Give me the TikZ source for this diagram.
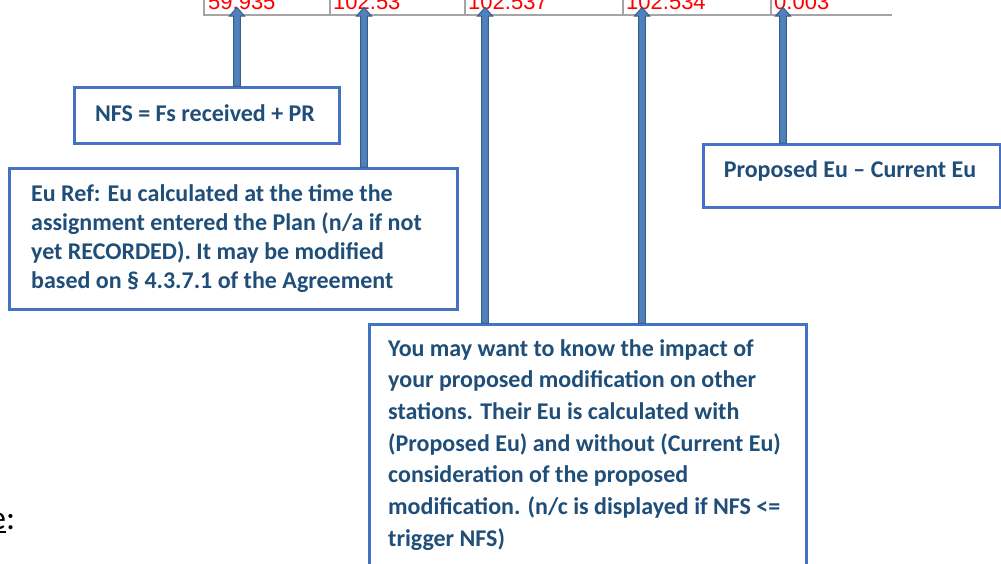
\documentclass[tikz,border=0pt]{standalone}
\usepackage{fontspec}
\setmainfont{Carlito}
\newfontfamily\numfont{Liberation Sans}
\usetikzlibrary{calc}
\definecolor{boxblue}{RGB}{68,114,196}
\definecolor{txtblue}{RGB}{31,78,121}
\definecolor{arrfill}{RGB}{79,129,189}
\definecolor{arrline}{RGB}{56,93,138}
\definecolor{gridgrey}{RGB}{165,165,165}
\newcommand\blockarr[2]{%
  \draw[blockarrow] let \p1=(#1), \p2=(#2) in
    (\x1-3.3pt,\y1) -- (\x1-3.3pt,\y2-8.5pt) -- (\x1-7.5pt,\y2-8.5pt) -- (\x2,\y2)
    -- (\x1+7.5pt,\y2-8.5pt) -- (\x1+3.3pt,\y2-8.5pt) -- (\x1+3.3pt,\y1) -- cycle;}
\begin{document}
\begin{tikzpicture}[x=1pt,y=-1pt,
  box/.style={draw=boxblue, line width=2.5pt, fill=white, inner sep=0pt, anchor=north west},
  txt/.style={inner sep=0pt, text=txtblue, font=\fontsize{24}{29.3}\selectfont\bfseries},
  num/.style={inner sep=0pt, anchor=base west, text=red, font=\numfont\fontsize{22}{26}\selectfont},
  grid/.style={draw=gridgrey, line width=1.5pt},
  blockarrow/.style={draw=arrline, fill=arrfill, line width=1pt, line join=miter}]
\useasboundingbox (0,0) rectangle (1001,563);
\clip (0,0) rectangle (1001,563);
\fill[white] (0,0) rectangle (1001,563);

% table row (cut at top)
\node[num] (v1) at (208,9) {59.935};
\node[num] (v2) at (333,9) {102.53};
\node[num] (v3) at (468,9) {102.537};
\node[num] (v4) at (626,9) {102.534};
\node[num] (v5) at (774,9) {0.003};
\draw[grid] (204,0) -- (204,15) -- (892,15);
\foreach \sx in {330,465,623,771} \draw[grid] (\sx,0) -- (\sx,15);

% arrow tips
\coordinate (t1) at (237,7.5);
\coordinate (t2) at (364,7.5);
\coordinate (t3) at (485,7.5);
\coordinate (t4) at (642,7.5);
\coordinate (t5) at (783,7.5);

% boxes
\node[box, minimum width=265, minimum height=56] (nfs) at (73,86) {};
\node[box, minimum width=448, minimum height=141] (euref) at (8,167) {};
\node[box, minimum width=297, minimum height=63] (prop) at (702,143) {};
\node[box, minimum width=437, minimum height=270] (impact) at (368,323) {};

% arrows
\blockarr{nfs.north -| t1}{t1}
\blockarr{euref.north -| t2}{t2}
\blockarr{impact.north -| t3}{t3}
\blockarr{impact.north -| t4}{t4}
\blockarr{prop.north -| t5}{t5}

% texts
\node[txt, anchor=base] (nfstxt) at (205,121) {NFS = Fs received + PR};
\node[txt, anchor=base] (proptxt) at (850,177) {Proposed Eu – Current Eu};
\node[txt, anchor=base west] (eutxt) at (31,201) {\vtop{\baselineskip=29.3pt
  \hbox{Eu Ref: Eu calculated at the time the}
  \hbox{assignment entered the Plan (n/a if not}
  \hbox{yet RECORDED). It may be modified}
  \hbox{based on § 4.3.7.1 of the Agreement}}};
\node[txt, anchor=base west] (imptxt) at (388,356) {\vtop{\baselineskip=31.7pt
  \hbox{You may want to know the impact of}
  \hbox{your proposed modification on other}
  \hbox{stations. Their Eu is calculated with}
  \hbox{(Proposed Eu) and without (Current Eu)}
  \hbox{consideration of the proposed}
  \hbox{modification. (n/c is displayed if NFS <=}
  \hbox{trigger NFS)}}};

% cut-off label at bottom left
\node[anchor=base west, inner sep=0pt, font=\fontsize{34}{40}\selectfont] (etxt) at (-11,529) {e:};
\draw[line width=2pt] (0,532) -- (6,532);
\end{tikzpicture}
\end{document}
